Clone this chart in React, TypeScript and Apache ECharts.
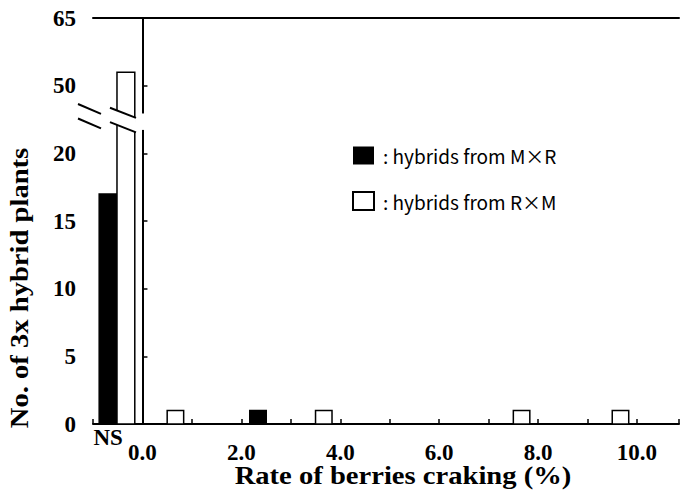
import React, { useEffect, useRef } from "react";
import * as echarts from "echarts";

// Cross directions shown as the two series
const seriesNames = ["hybrids from M×R", "hybrids from R×M"];

// Plants whose berries did not segregate (NS), per cross direction
const nsLabel = "NS";
const nsCounts = [17, 53]; // M×R, R×M

// Histogram of the cracking rate (%), bins one third of a percent wide
const binWidth = 1 / 3;
const mxrBinStart = [2.17];
const mxrCounts = [1];
const rxmBinStart = [0.5, 3.5, 7.5, 9.5];
const rxmCounts = [1, 1, 1, 1];

// Axis ticks
const yTickValues = [0, 5, 10, 15, 20, 50, 65];
const xTickLabels = ["0.0", "2.0", "4.0", "6.0", "8.0", "10.0"];

// Broken y axis: 0-20 drawn at full scale, 50-65 compressed three-fold
const HIGH_BASE = 50;
const HIGH_AXIS = 25;
const COMPRESS = 3;
const toAxis = (v: number) =>
  v <= 35 ? v : HIGH_AXIS + (v - HIGH_BASE) / COMPRESS;
const breakLo = toAxis(22.1);
const breakHi = toAxis(44.5);

// Position of the NS pair of bars on the x axis (left of 0.0)
const nsCenter = -0.515;
const nsBarW = 0.36;

const serifBold = "bold 23px 'Liberation Serif'";

function renderBar(fill: string) {
  return (_params: any, api: any) => {
    const p0 = api.coord([api.value(0), 0]);
    const p1 = api.coord([api.value(1), api.value(2)]);
    return {
      type: "rect",
      shape: {
        x: p0[0],
        y: p1[1],
        width: p1[0] - p0[0],
        height: p0[1] - p1[1],
      },
      style: { fill, stroke: "#000", lineWidth: 1.5 },
    };
  };
}

export default function App() {
  const ref = useRef<HTMLDivElement>(null);

  useEffect(() => {
    if (!ref.current) return;
    const chart = echarts.init(ref.current, undefined, { renderer: "svg" });

    const mxrData = [
      [nsCenter - nsBarW, nsCenter, toAxis(nsCounts[0])],
      ...mxrBinStart.map((s, i) => [s, s + binWidth, toAxis(mxrCounts[i])]),
    ];
    const rxmData = [
      [nsCenter, nsCenter + nsBarW, toAxis(nsCounts[1])],
      ...rxmBinStart.map((s, i) => [s, s + binWidth, toAxis(rxmCounts[i])]),
    ];

    const axisLine = { lineStyle: { color: "#000", width: 2 } };
    const tickFont = {
      color: "#000",
      fontFamily: "Liberation Serif",
      fontWeight: "bold",
      fontSize: 23,
    };

    chart.setOption({
      animation: false,
      backgroundColor: "#fff",
      grid: { left: 93, right: 0, top: 18, bottom: 68 },
      xAxis: [
        {
          type: "value",
          min: -1,
          max: 10.85,
          interval: 1,
          axisLine,
          axisTick: {
            inside: true,
            length: 5,
            lineStyle: { color: "#000", width: 1.5 },
          },
          splitLine: { show: false },
          axisLabel: {
            margin: 17,
            ...tickFont,
            formatter: (v: number) =>
              xTickLabels.find((l) => parseFloat(l) === v) ?? "",
          },
        },
        {
          type: "value",
          position: "top",
          min: -1,
          max: 10.85,
          axisLine,
          axisTick: { show: false },
          axisLabel: { show: false },
          splitLine: { show: false },
        },
      ],
      yAxis: {
        type: "value",
        min: 0,
        max: toAxis(65),
        interval: 5,
        axisLine,
        axisTick: {
          inside: true,
          length: 5,
          lineStyle: { color: "#000", width: 1.5 },
        },
        splitLine: { show: false },
        axisLabel: {
          margin: 17,
          ...tickFont,
          formatter: (v: number) => {
            const t = yTickValues.find((y) => Math.abs(toAxis(y) - v) < 1e-6);
            return t === undefined ? "" : String(t);
          },
        },
      },
      legend: {
        orient: "vertical",
        left: 352,
        top: 146,
        padding: 0,
        itemWidth: 21,
        itemHeight: 18,
        itemGap: 26,
        icon: "rect",
        selectedMode: false,
        formatter: (name: string) => ": " + name,
        textStyle: {
          color: "#000",
          fontFamily: "'Noto Sans CJK JP', 'Noto Sans'",
          fontSize: 19,
          lineHeight: 18,
          padding: [0, 0, 0, 4],
        },
        data: [
          { name: seriesNames[0], itemStyle: { color: "#000" } },
          {
            name: seriesNames[1],
            itemStyle: { color: "#fff", borderColor: "#000", borderWidth: 2 },
          },
        ],
      },
      series: [
        {
          type: "custom",
          name: seriesNames[0],
          itemStyle: { color: "#000" },
          renderItem: renderBar("#000"),
          encode: { x: [0, 1], y: 2 },
          data: mxrData,
          z: 3,
        },
        {
          type: "custom",
          name: seriesNames[1],
          itemStyle: { color: "#fff" },
          renderItem: renderBar("#fff"),
          encode: { x: [0, 1], y: 2 },
          data: rxmData,
          z: 3,
          markLine: {
            silent: true,
            symbol: "none",
            label: { show: false },
            lineStyle: { color: "#000", width: 1.5, type: "solid" },
            data: [{ xAxis: 0 }],
          },
        },
      ],
    });

    // Break marks, axis titles and the NS label, placed from axis coordinates
    const axX = chart.convertToPixel({ xAxisIndex: 0 }, -1) as number;
    const sepX = chart.convertToPixel({ xAxisIndex: 0 }, 0) as number;
    const barX = chart.convertToPixel({ xAxisIndex: 0 }, nsCenter) as number;
    const nsX = chart.convertToPixel(
      { xAxisIndex: 0 },
      nsCenter - nsBarW / 2
    ) as number;
    const yHi = chart.convertToPixel({ yAxisIndex: 0 }, breakHi) as number;
    const yLo = chart.convertToPixel({ yAxisIndex: 0 }, breakLo) as number;
    const y0 = chart.convertToPixel({ yAxisIndex: 0 }, 0) as number;

    const breakMark = (cx: number, left: number, right: number, s: number) => {
      const pts = (y: number) => [
        [cx - left, y - left * s],
        [cx + right, y + right * s],
      ];
      const top = pts(yHi);
      const bot = pts(yLo);
      return [
        {
          type: "polygon",
          z: 100,
          shape: { points: [top[0], top[1], bot[1], bot[0]] },
          style: { fill: "#fff", stroke: null },
        },
        ...[top, bot].map((p) => ({
          type: "line",
          z: 101,
          shape: { x1: p[0][0], y1: p[0][1], x2: p[1][0], y2: p[1][1] },
          style: { stroke: "#000", lineWidth: 2 },
        })),
      ];
    };

    const textStyle = (text: string, font: string) => ({
      text,
      font,
      fill: "#000",
      align: "center",
      verticalAlign: "middle",
      textAlign: "center",
      textVerticalAlign: "middle",
    });

    chart.setOption({
      graphic: [
        {
          type: "rect",
          z: 99,
          shape: { x: sepX - 2, y: yHi + 3, width: 4, height: yLo - yHi + 2 },
          style: { fill: "#fff" },
        },
        ...breakMark(axX, 15, 8, 0.43),
        ...breakMark(barX, 7, 19, 0.39),
        {
          type: "text",
          z: 101,
          x: nsX,
          y: y0 + 13,
          style: textStyle(nsLabel, serifBold),
        },
        {
          type: "text",
          z: 101,
          x: 403,
          y: 475,
          scaleX: 1.1,
          style: textStyle(
            "Rate of berries craking (%)",
            "bold 26px 'Liberation Serif'"
          ),
        },
        {
          type: "text",
          z: 101,
          x: 19,
          y: 288,
          rotation: Math.PI / 2,
          scaleX: 1.1,
          style: textStyle(
            "No. of 3x hybrid plants",
            "bold 26px 'Liberation Serif'"
          ),
        },
      ],
    });

    return () => chart.dispose();
  }, []);

  return (
    <div
      ref={ref}
      style={{ position: "absolute", left: 0, top: 0, width: 682, height: 492 }}
    />
  );
}
